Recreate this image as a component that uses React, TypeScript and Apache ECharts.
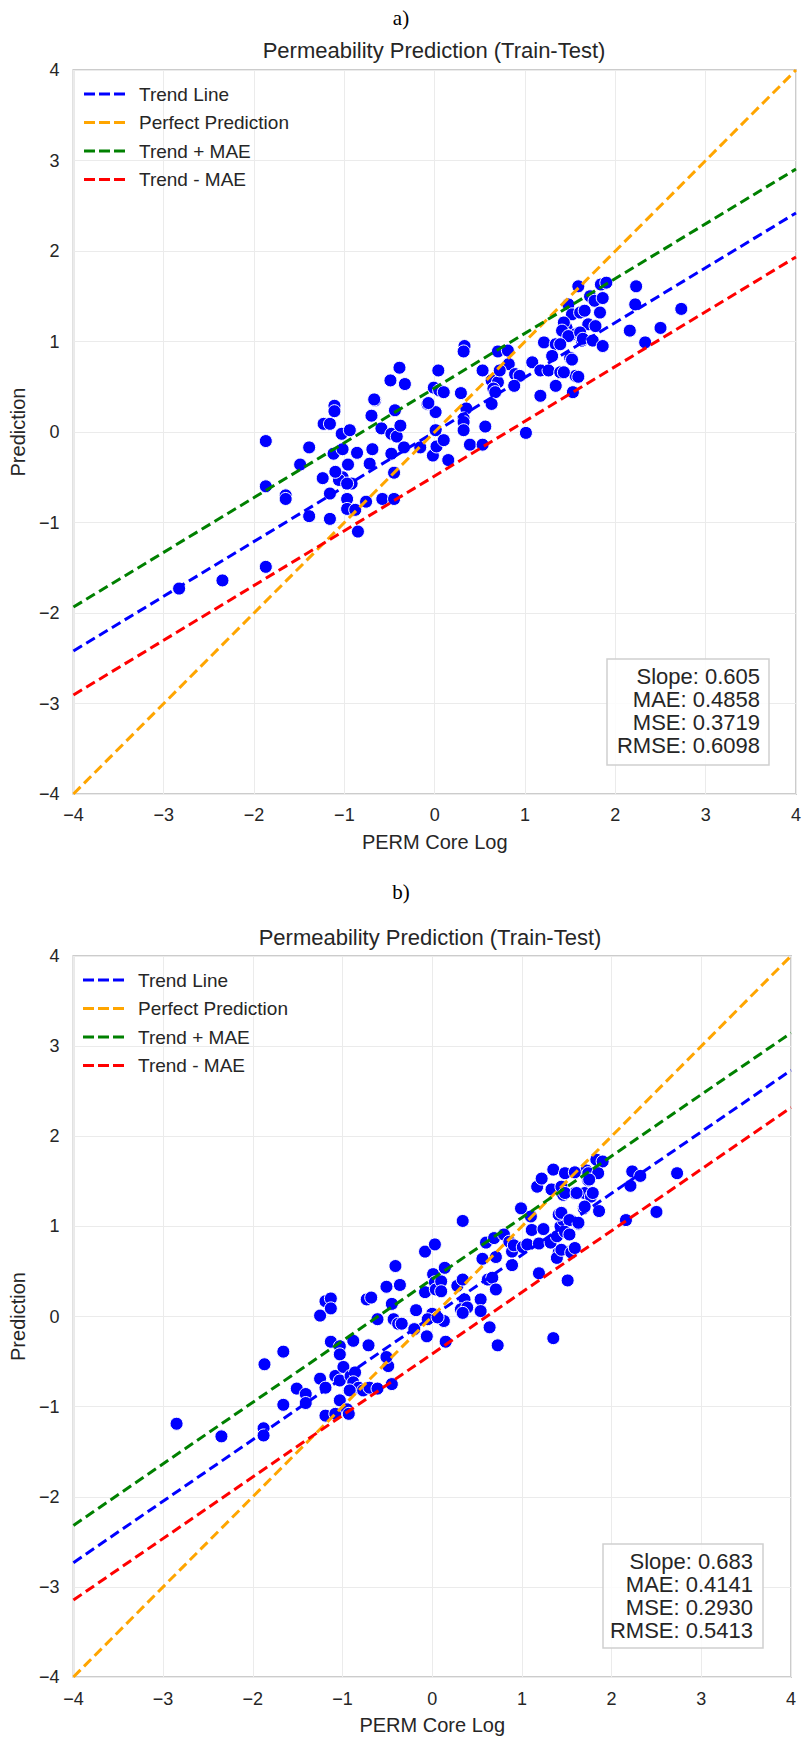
import React, { useEffect, useRef } from 'react';
import * as echarts from 'echarts';

// ---------- DATA ----------
const axisTicks = [-4, -3, -2, -1, 0, 1, 2, 3, 4];
const lineNames = ['Trend Line', 'Perfect Prediction', 'Trend + MAE', 'Trend - MAE'];
const lineColors = ['#0000ff', '#ffa500', '#008000', '#ff0000'];

// panel a) stats
const slopeA = 0.605;
const maeA = 0.4858;
const mseA = 0.3719;
const rmseA = 0.6098;

// panel b) stats
const slopeB = 0.683;
const maeB = 0.4141;
const mseB = 0.293;
const rmseB = 0.5413;

// panel a) scatter points [PERM Core Log, Prediction]
const pointsA: [number, number][] = [
  [-1.87, -0.1], [-1.87, -0.6], [-1.87, -1.49], [-2.83, -1.73], [-2.35, -1.64],
  [-1.65, -0.7], [-1.65, -0.74], [-1.49, -0.36], [-1.39, -0.17], [-1.39, -0.93],
  [-1.23, 0.09], [-1.16, 0.09], [-1.11, 0.29], [-1.11, 0.23], [-1.24, -0.51],
  [-1.16, -0.68], [-1.16, -0.96], [-1.12, -0.24], [-1.03, -0.02], [-0.94, 0.02],
  [-1.02, -0.19], [-0.96, -0.36], [-1.02, -0.5], [-1.06, -0.53], [-0.92, -0.57],
  [-0.86, -0.23], [-0.97, -0.74], [-0.97, -0.85], [-0.88, -0.86], [-0.85, -1.1],
  [-0.76, -0.77], [-0.69, -0.19], [-0.72, -0.35], [-0.7, 0.18], [-0.66, 0.35],
  [-0.59, 0.04], [-0.58, -0.74], [-0.45, -0.74], [-0.45, -0.45], [-0.48, -0.02],
  [-0.42, -0.05], [-0.38, 0.07], [-0.44, 0.24], [-0.48, -0.24], [-0.34, -0.17],
  [-0.16, -0.17], [-0.08, 0.31], [0.01, 0.22], [0.01, 0.02], [-0.02, -0.26],
  [-1.1, -0.44], [-0.97, -0.57],
  [0.33, 0.95], [0.32, 0.89], [-0.39, 0.71], [-0.49, 0.57], [-0.33, 0.53],
  [-0.67, 0.36], [0.04, 0.68], [-0.01, 0.49], [0.05, 0.46], [0.1, 0.44],
  [-0.07, 0.32], [0.29, 0.43], [0.35, 0.26], [0.32, 0.15], [0.32, 0.11],
  [0.56, 0.06], [0.53, 0.68], [0.63, 0.57], [0.7, 0.55], [0.65, 0.48],
  [0.67, 0.44], [0.63, 0.31], [0.7, 0.89], [0.81, 0.9], [0.82, 0.75],
  [0.72, 0.68], [0.89, 0.64], [0.94, 0.62], [0.88, 0.51], [1.01, -0.01],
  [1.08, 0.77], [1.17, 0.4], [1.21, 0.99], [1.34, 0.97], [1.3, 0.84],
  [1.17, 0.68], [1.26, 0.68], [1.39, 0.66], [1.34, 0.51], [1.46, 1.15],
  [1.45, 1.08], [1.56, 1.08], [1.5, 0.82], [1.52, 0.8], [1.56, 0.62],
  [1.53, 0.44], [1.63, 1.01], [0.02, -0.16], [0.1, -0.09], [0.15, -0.31],
  [0.39, -0.14], [0.53, -0.14], [0.32, 0.02],
  [1.59, 1.61], [1.84, 1.63], [1.9, 1.65], [1.72, 1.5], [1.77, 1.45],
  [1.86, 1.48], [1.48, 1.41], [1.52, 1.3], [1.61, 1.32], [1.66, 1.34],
  [1.83, 1.32], [1.43, 1.21], [1.7, 1.19], [1.78, 1.17], [1.41, 1.12],
  [1.48, 1.06], [1.61, 1.1], [1.64, 1.03], [1.75, 1.01], [1.86, 0.95],
  [1.39, 0.97], [1.43, 0.66], [1.59, 0.61], [2.23, 1.61], [2.22, 1.41],
  [2.16, 1.12], [2.33, 0.99], [2.5, 1.15], [2.73, 1.36],
];

// panel b) scatter points [PERM Core Log, Prediction]
const pointsB: [number, number][] = [
  [-2.85, -1.19], [-2.35, -1.33], [-1.88, -1.24], [-1.88, -1.32], [-1.87, -0.53],
  [-1.66, -0.39], [-1.66, -0.98], [-1.51, -0.8], [-1.41, -0.86], [-1.41, -0.96],
  [-1.25, -0.69], [-1.19, -0.79], [-1.25, 0.01], [-1.19, 0.17], [-1.13, 0.2],
  [-1.13, 0.09], [-1.13, -0.28], [-1.03, -0.33], [-1.03, -0.42], [-1.19, -1.1],
  [-1.08, -1.08], [-1.03, -0.93], [-0.95, -1.03], [-0.93, -1.08], [-1.08, -0.66],
  [-1.03, -0.71], [-0.99, -0.56], [-0.91, -0.66], [-0.86, -0.62], [-0.88, -0.73],
  [-0.82, -0.79], [-0.92, -0.82], [-0.77, -0.82], [-0.7, -0.79], [-0.88, -0.27],
  [-0.71, -0.32], [-0.73, 0.19], [-0.68, 0.21], [-0.51, 0.33], [-0.41, 0.56],
  [-0.36, 0.35], [-0.45, 0.14], [-0.43, -0.03], [-0.38, -0.08], [-0.61, -0.03],
  [-0.49, -0.55], [-0.51, -0.45], [-0.45, -0.75], [-0.61, -0.8], [-0.18, 0.07],
  [-0.2, -0.14], [-0.06, -0.22], [-0.08, 0.27], [-0.08, 0.72], [0.03, 0.8],
  [0.01, 0.47], [0.03, 0.38], [0.04, 0.3], [0.0, 0.03], [-0.05, -0.03],
  [-0.34, -0.08],
  [0.34, 1.06], [0.14, 0.54], [0.1, 0.39], [0.1, 0.28], [0.28, 0.34],
  [0.34, 0.41], [0.36, 0.19], [0.32, 0.08], [0.39, 0.1], [0.34, 0.04],
  [0.54, 0.19], [0.54, 0.06], [0.64, -0.12], [0.73, -0.32], [0.13, -0.05],
  [0.15, -0.28], [0.06, -0.01], [0.56, 0.64], [0.71, 0.66], [0.6, 0.82],
  [0.69, 0.87], [0.8, 0.91], [0.86, 0.83], [0.62, 0.41], [0.67, 0.43],
  [0.71, 0.3], [0.89, 0.72], [0.91, 0.79], [0.89, 0.57], [0.99, 1.2],
  [1.1, 1.11], [1.11, 0.96], [1.01, 0.77], [1.06, 0.8], [1.19, 0.81],
  [1.24, 0.97], [1.32, 0.82], [1.39, 0.89], [1.43, 1.0], [1.46, 1.07],
  [1.52, 0.91], [1.63, 1.03], [1.54, 1.07], [1.41, 1.13], [1.41, 0.71],
  [1.39, 0.65], [1.54, 0.72], [1.19, 0.48], [1.51, 0.4], [1.35, -0.24],
  [1.17, 1.44], [1.22, 1.53], [1.35, 1.63], [1.33, 1.41], [1.46, 1.35],
  [1.59, 1.37], [1.7, 1.37], [1.69, 1.2], [1.74, 1.51], [1.72, 1.62],
  [1.48, 1.59],
  [1.83, 1.74], [1.9, 1.72], [1.59, 1.6], [1.74, 1.59], [1.85, 1.59],
  [1.75, 1.52], [1.44, 1.44], [1.48, 1.37], [1.61, 1.37], [1.77, 1.33],
  [1.79, 1.37], [1.7, 1.22], [1.86, 1.17], [1.44, 1.15], [1.53, 1.07],
  [1.63, 1.04], [1.48, 0.94], [1.53, 0.91], [1.44, 0.74], [1.55, 0.71],
  [1.59, 0.76], [2.23, 1.61], [2.32, 1.56], [2.21, 1.45], [2.73, 1.59],
  [2.16, 1.07], [2.5, 1.16],
];

// ---------- STYLE ----------
const FONT = '"Liberation Sans", Arial, Helvetica, sans-serif';
const SERIF = '"Liberation Serif", "Times New Roman", serif';
const TEXT = '#262626';
const DASH_ICON = 'path://M0,0h11v3h-11z M15,0h11v3h-11z M30,0h11v3h-11z';

const fmt = (v: number) => (v < 0 ? '\u2212' + Math.abs(v) : String(v));

const xMin = axisTicks[0];
const xMax = axisTicks[axisTicks.length - 1];

function buildLines(slope: number, mae: number) {
  const f = [
    (x: number) => slope * x,
    (x: number) => x,
    (x: number) => slope * x + mae,
    (x: number) => slope * x - mae,
  ];
  return f.map((fn) => [
    [xMin, fn(xMin)],
    [xMax, fn(xMax)],
  ]);
}

function makeAxis(gridIndex: number, kind: 'x' | 'y', nameGap: number, labelMargin: number) {
  return {
    type: 'value',
    gridIndex,
    min: xMin,
    max: xMax,
    interval: 1,
    name: kind === 'x' ? 'PERM Core Log' : 'Prediction',
    nameLocation: 'middle',
    nameGap,
    nameTextStyle: { fontSize: 20, color: TEXT, fontFamily: FONT },
    axisLine: { show: false },
    axisTick: { show: false },
    splitLine: { show: true, lineStyle: { color: '#ebebeb', width: 1 } },
    axisLabel: {
      fontSize: 18,
      color: TEXT,
      fontFamily: FONT,
      margin: labelMargin,
      formatter: fmt,
      showMinLabel: true,
      showMaxLabel: true,
    },
  };
}

function makeSeries(gridIndex: number, points: [number, number][], slope: number, mae: number) {
  const lines = buildLines(slope, mae);
  const out: any[] = [
    {
      type: 'scatter',
      name: 'Data',
      xAxisIndex: gridIndex,
      yAxisIndex: gridIndex,
      data: points,
      symbol: 'circle',
      symbolSize: 13,
      itemStyle: { color: '#0000ff', borderColor: '#ffffff', borderWidth: 1, opacity: 1 },
      emphasis: { disabled: true },
      z: 2,
    },
  ];
  lines.forEach((d, i) => {
    out.push({
      type: 'line',
      name: lineNames[i],
      xAxisIndex: gridIndex,
      yAxisIndex: gridIndex,
      data: d,
      showSymbol: false,
      symbol: 'none',
      lineStyle: { color: lineColors[i], width: 3, type: [10, 5] },
      itemStyle: { color: lineColors[i] },
      emphasis: { disabled: true },
      z: 3 + i,
    });
  });
  return out;
}

function statsGraphic(x: number, y: number, w: number, h: number, textRight: number, slope: number, mae: number, mse: number, rmse: number) {
  return {
    type: 'group',
    children: [
      {
        type: 'rect',
        shape: { x, y, width: w, height: h },
        style: { fill: 'rgba(255,255,255,0.85)', stroke: '#d0d0d0', lineWidth: 1.5 },
        z: 100,
      },
      {
        type: 'text',
        x: textRight,
        y: y + 6,
        z: 101,
        style: {
          text: [
            `Slope: ${slope.toFixed(3)}`,
            `MAE: ${mae.toFixed(4)}`,
            `MSE: ${mse.toFixed(4)}`,
            `RMSE: ${rmse.toFixed(4)}`,
          ].join('\n'),
          align: 'right',
          verticalAlign: 'top',
          fontSize: 22,
          lineHeight: 23,
          fontFamily: FONT,
          fill: TEXT,
        },
      },
    ],
  };
}

function legendCfg(left: number, top: number) {
  return {
    left,
    top,
    orient: 'vertical',
    padding: 0,
    itemWidth: 41,
    itemHeight: 3,
    itemGap: 8.5,
    selectedMode: false,
    data: lineNames.map((n) => ({ name: n, icon: DASH_ICON })),
    textStyle: { fontSize: 19, color: TEXT, fontFamily: FONT, lineHeight: 20, padding: [0, 0, 0, 9] },
  };
}

export default function App() {
  const ref = useRef<HTMLDivElement>(null);

  useEffect(() => {
    document.body.style.margin = '0';
    if (!ref.current) return;
    const chart = echarts.init(ref.current, null, { renderer: 'svg' });
    const option: any = {
      animation: false,
      backgroundColor: '#ffffff',
      textStyle: { fontFamily: FONT },
      grid: [
        { left: 72, top: 70, width: 724, height: 724, show: true, borderColor: '#cccccc', borderWidth: 2, backgroundColor: '#ffffff' },
        { left: 70, top: 956, width: 721, height: 721, show: true, borderColor: '#cccccc', borderWidth: 2, backgroundColor: '#ffffff' },
      ],
      xAxis: [makeAxis(0, 'x', 38, 12), makeAxis(1, 'x', 38, 13)],
      yAxis: [makeAxis(0, 'y', 44, 14), makeAxis(1, 'y', 44, 14)],
      legend: [legendCfg(84, 84), legendCfg(83, 970)],
      series: [...makeSeries(0, pointsA, slopeA, maeA), ...makeSeries(1, pointsB, slopeB, maeB)],
      graphic: [
        { type: 'text', x: 401, y: 18, style: { text: 'a)', fontSize: 21, fontFamily: SERIF, fill: '#000', align: 'center', verticalAlign: 'middle' } },
        { type: 'text', x: 401, y: 892, style: { text: 'b)', fontSize: 21, fontFamily: SERIF, fill: '#000', align: 'center', verticalAlign: 'middle' } },
        { type: 'text', x: 434, y: 50, style: { text: 'Permeability Prediction (Train-Test)', fontSize: 22, fontFamily: FONT, fill: TEXT, align: 'center', verticalAlign: 'middle' } },
        { type: 'text', x: 430, y: 937, style: { text: 'Permeability Prediction (Train-Test)', fontSize: 22, fontFamily: FONT, fill: TEXT, align: 'center', verticalAlign: 'middle' } },
        statsGraphic(607, 659, 162, 106, 760, slopeA, maeA, mseA, rmseA),
        statsGraphic(603, 1544, 160, 104, 753, slopeB, maeB, mseB, rmseB),
      ],
    };
    chart.setOption(option);
    return () => chart.dispose();
  }, []);

  return <div ref={ref} style={{ width: 804, height: 1739 }} />;
}
